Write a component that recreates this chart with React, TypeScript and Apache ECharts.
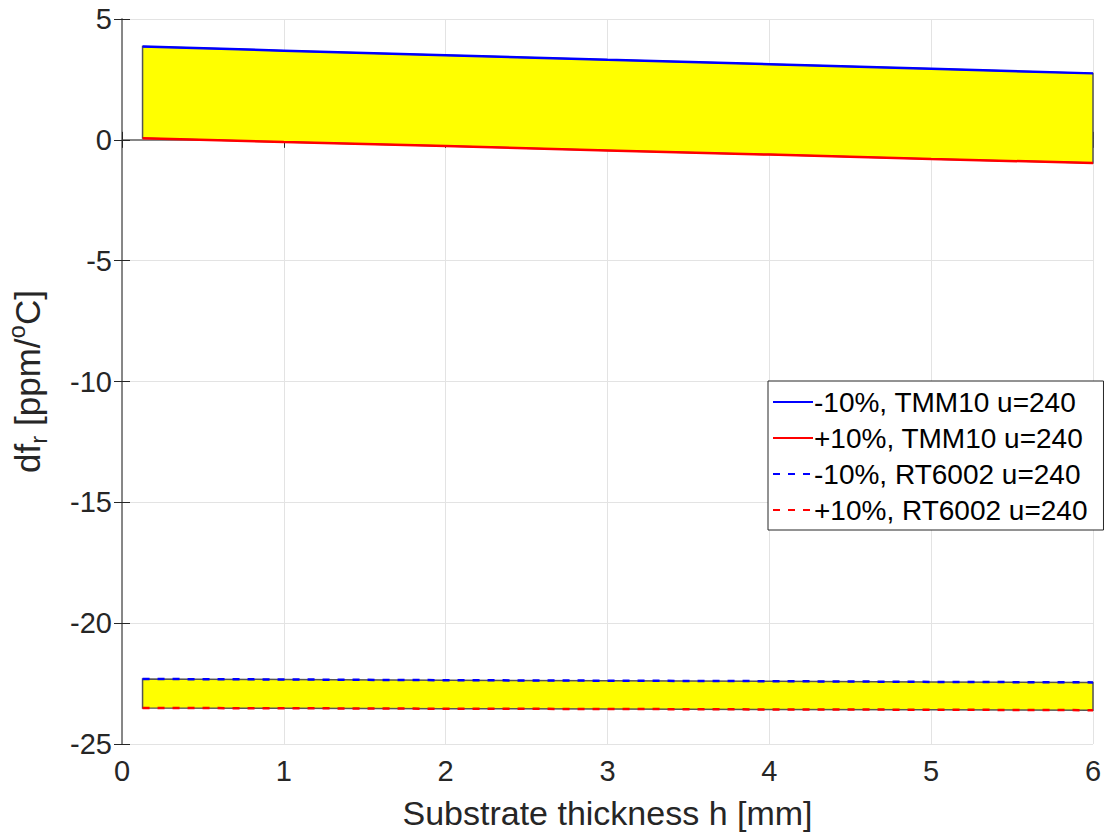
import React, { useEffect, useRef } from "react";
import * as echarts from "echarts";

const thickness = [0.127, 1, 2, 3, 4, 5, 6];
const tmmMinus = [3.86, 3.69, 3.5, 3.31, 3.13, 2.94, 2.75];
const tmmPlus = [0.07, -0.09, -0.26, -0.44, -0.61, -0.79, -0.96];
const rtMinus = [-22.31, -22.33, -22.36, -22.38, -22.4, -22.43, -22.45];
const rtPlus = [-23.51, -23.52, -23.54, -23.55, -23.57, -23.58, -23.6];
const seriesNames = [
  "-10%, TMM10 u=240",
  "+10%, TMM10 u=240",
  "-10%, RT6002 u=240",
  "+10%, RT6002 u=240",
];
const xTicks = [0, 1, 2, 3, 4, 5, 6];
const yTicks = [-25, -20, -15, -10, -5, 0, 5];

const FONT = "'Liberation Sans', Arial, Helvetica, sans-serif";
const TXT = "#262626";
const AX = "#808080";

function band(upper: number[], lower: number[]) {
  return {
    type: "custom",
    xAxisIndex: 0,
    yAxisIndex: 0,
    silent: true,
    z: 1,
    data: [[thickness[0], upper[0]]],
    renderItem: (_params: any, api: any) => {
      const pts: number[][] = [];
      thickness.forEach((x, i) => pts.push(api.coord([x, upper[i]])));
      for (let i = thickness.length - 1; i >= 0; i--) pts.push(api.coord([thickness[i], lower[i]]));
      return {
        type: "polygon",
        shape: { points: pts },
        style: { fill: "#ffff00", stroke: "#555555", lineWidth: 1.5 },
      };
    },
  };
}

function line(name: string, vals: number[], color: string, dashed: boolean) {
  return {
    name,
    type: "line",
    xAxisIndex: 0,
    yAxisIndex: 0,
    data: thickness.map((x, i) => [x, vals[i]]),
    showSymbol: false,
    symbol: "none",
    z: 3,
    lineStyle: { color, width: 2.5, type: dashed ? [7, 8] : "solid" },
    itemStyle: { color },
  };
}

export default function App() {
  const ref = useRef<HTMLDivElement>(null);
  useEffect(() => {
    const chart = echarts.init(ref.current!, null, { renderer: "svg" });
    const common = {
      min: -25,
      max: 5,
      interval: 5,
    };
    chart.setOption({
      animation: false,
      backgroundColor: "#ffffff",
      textStyle: { fontFamily: FONT },
      grid: { left: 122, right: 11, top: 19, bottom: 93, containLabel: false, outerBoundsMode: "none" },
      xAxis: [
        {
          type: "value",
          min: 0,
          max: 6,
          interval: 1,
          position: "bottom",
          name: "Substrate thickness h [mm]",
          nameLocation: "middle",
          nameGap: 52,
          nameTextStyle: { fontSize: 34, color: TXT, fontFamily: FONT },
          axisLine: { show: true, lineStyle: { color: AX, width: 1.5 } },
          axisTick: { show: true, inside: true, length: 8, lineStyle: { color: TXT } },
          axisLabel: {
            fontSize: 29,
            color: TXT,
            margin: 12,
            formatter: (v: number) => (xTicks.includes(v) ? String(v) : ""),
          },
          splitLine: { show: true, lineStyle: { color: "#e3e3e3", width: 1 } },
        },
        {
          type: "value",
          min: 0,
          max: 6,
          interval: 1,
          position: "top",
          axisLine: { show: true, lineStyle: { color: AX, width: 1.5 } },
          axisTick: { show: true, inside: true, length: 8, lineStyle: { color: TXT } },
          axisLabel: { show: false },
          splitLine: { show: false },
        },
      ],
      yAxis: [
        {
          type: "value",
          ...common,
          position: "left",
          name: "{a|df}{s|r}{a| [ppm/}{p|o}{a|C]}",
          nameLocation: "middle",
          nameRotate: 90,
          nameGap: 72,
          nameTextStyle: {
            color: TXT,
            fontFamily: FONT,
            rich: {
              a: { fontSize: 35, color: TXT, fontFamily: FONT, lineHeight: 46, verticalAlign: "middle" },
              s: { fontSize: 24, color: TXT, fontFamily: FONT, lineHeight: 46, verticalAlign: "bottom" },
              p: { fontSize: 24, color: TXT, fontFamily: FONT, lineHeight: 46, verticalAlign: "top" },
            },
          },
          axisLine: { show: true, lineStyle: { color: AX, width: 1.5 } },
          axisTick: { show: true, inside: true, length: 8, lineStyle: { color: TXT } },
          axisLabel: {
            fontSize: 29,
            color: TXT,
            margin: 10,
            formatter: (v: number) => (yTicks.includes(v) ? String(v) : ""),
          },
          splitLine: { show: true, lineStyle: { color: "#e3e3e3", width: 1 } },
        },
        {
          type: "value",
          ...common,
          position: "right",
          axisLine: { show: true, lineStyle: { color: AX, width: 1.5 } },
          axisTick: { show: true, inside: true, length: 8, lineStyle: { color: TXT } },
          axisLabel: { show: false },
          splitLine: { show: false },
        },
      ],
      legend: {
        data: seriesNames,
        orient: "vertical",
        left: 768,
        top: 381,
        width: 324,
        padding: [6, 16, 5, 4],
        itemGap: 6,
        itemWidth: 40,
        itemHeight: 14,
        backgroundColor: "#ffffff",
        borderColor: "#262626",
        borderWidth: 1,
        itemStyle: { opacity: 0 },
        textStyle: { fontSize: 28, color: "#000000", fontFamily: FONT, lineHeight: 30, padding: [0, 0, 0, -4] },
      },
      series: [
        band(tmmMinus, tmmPlus),
        band(rtMinus, rtPlus),
        line(seriesNames[0], tmmMinus, "#0000ff", false),
        line(seriesNames[1], tmmPlus, "#ff0000", false),
        line(seriesNames[2], rtMinus, "#0000ff", true),
        line(seriesNames[3], rtPlus, "#ff0000", true),
      ],
    });
    return () => chart.dispose();
  }, []);
  return (
    <div
      ref={ref}
      style={{ position: "absolute", left: 0, top: 0, width: 1104, height: 837, background: "#fff" }}
    />
  );
}
